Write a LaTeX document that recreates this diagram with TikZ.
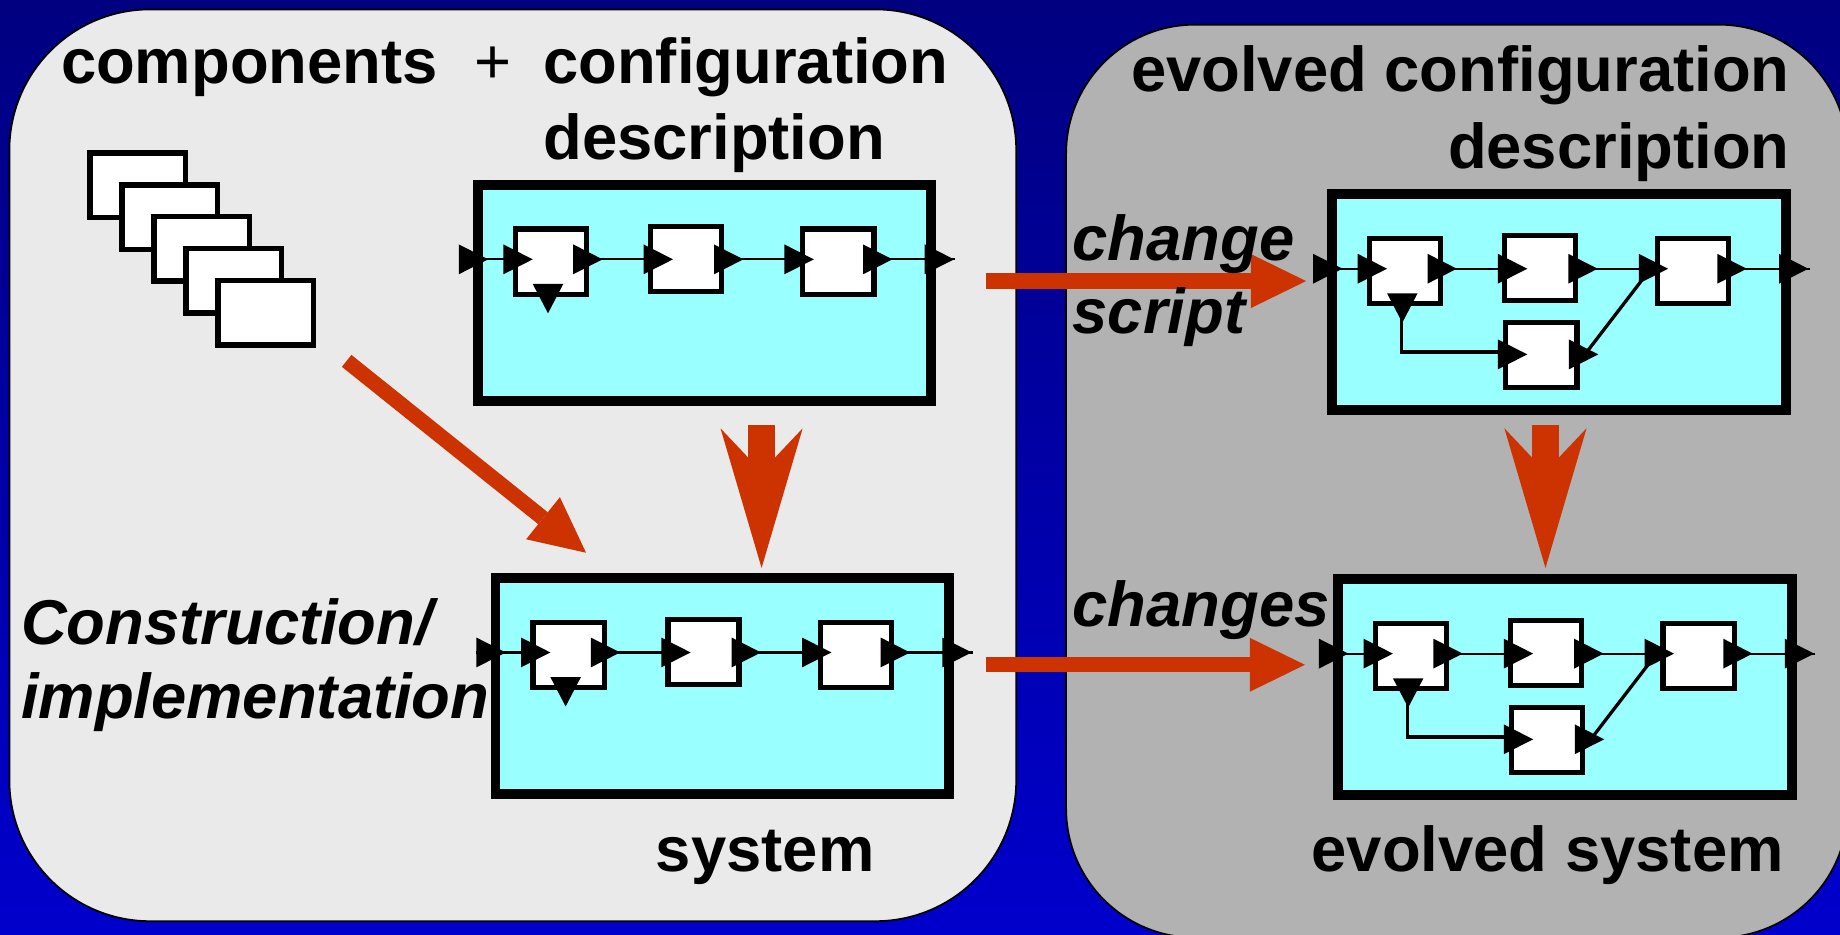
\documentclass[tikz,border=0pt]{standalone}
\usepackage{fontspec}
\setmainfont{Liberation Sans}
\usetikzlibrary{arrows.meta}

\definecolor{bgtop}{RGB}{0,0,128}
\definecolor{bgbot}{RGB}{0,0,204}
\definecolor{panelLight}{RGB}{234,234,234}
\definecolor{panelDark}{RGB}{178,178,178}
\definecolor{boxcyan}{RGB}{153,255,255}
\definecolor{arrowred}{RGB}{204,51,0}

\tikzset{
  panel/.style={draw=black, line width=1.5pt, inner sep=0pt, outer sep=0pt, anchor=north west},
  cbox/.style={draw=black, fill=boxcyan, line width=8.5pt, inner sep=0pt, outer sep=0pt,
               minimum width=386.5pt, minimum height=184.5pt},
  blk/.style={draw=black, fill=white, line width=4.4pt, inner sep=0pt, outer sep=0pt,
              minimum width=60.6pt, minimum height=55.6pt},
  comp/.style={draw=black, fill=white, line width=4.6pt, inner sep=0pt, outer sep=0pt,
               minimum width=81.4pt, minimum height=54.9pt},
  sig/.style={draw=black, line width=1.8pt},
  branch/.style={draw=black, line width=2.8pt},
  redthin/.style={draw=arrowred, line width=13pt,
                  -{Triangle[width=46pt,length=47pt,line width=0pt]}},
  redthick/.style={draw=arrowred, line width=23pt,
                  -{Stealth[width=70pt,length=119pt,inset=37pt,line width=0pt]}},
  lbl/.style={inner sep=0pt, outer sep=0pt, font=\fontsize{54}{60}\selectfont\bfseries},
  ilbl/.style={inner sep=0pt, outer sep=0pt, font=\fontsize{54}{60}\selectfont\bfseries\itshape},
}

% right-pointing port triangle: base x, centre y
\newcommand\porttri[2]{\fill (#1,#2-12.7) -- (#1+25,#2) -- (#1,#2+12.7) -- cycle;}
% downward port triangle: centre x, base y
\newcommand\downtri[2]{\fill (#1-13,#2) -- (#1+13,#2) -- (#1,#2+25) -- cycle;}

% configuration box: prefix, top-left x, top-left y, evolved (0/1)
\newcommand\cfgbox[4]{%
\begin{scope}[shift={(#2,#3)}]
  \node[cbox, anchor=north west] (#1box) at (4.25,4.25) {};
  \coordinate (#1pin) at (-12,68);
  \coordinate (#1pout) at (411,68);
  \draw[sig] (#1pin) -- (#1pout);
  \ifnum#4=1
    \coordinate (#1tap) at (63.5,110);
    \coordinate (#1b4in) at (146,139);
    \coordinate (#1b4out) at (221.6,138.4);
    \coordinate (#1b3low) at (268.5,77.3);
    \draw[branch] (#1tap) |- (#1b4in);
    \draw[branch] (#1b4out) -- (#1b3low);
    \node[blk] (#1b4) at (182.5,141.5) {};
  \fi
  \node[blk] (#1b1) at (66.5,70) {};
  \node[blk] (#1b2) at (181.5,67.5) {};
  \node[blk] (#1b3) at (311.5,70) {};
  \porttri{-12}{68}\porttri{26}{68}\porttri{85.5}{68}\porttri{145.5}{68}
  \porttri{205.5}{68}\porttri{265.5}{68}\porttri{332.5}{68}\porttri{385}{68}
  \downtri{64}{89}
  \ifnum#4=1
    \porttri{145.5}{141}\porttri{206}{141}
  \fi
\end{scope}}

\begin{document}
\begin{tikzpicture}[x=1pt,y=-1pt]
  \useasboundingbox (0,0) rectangle (1568,796);
  % backdrop
  \shade[top color=bgtop, bottom color=bgbot] (0,0) rectangle (1568,796);

  % the two panels
  \node[panel, fill=panelLight, rounded corners=120pt,
        minimum width=858pt, minimum height=777pt] (lpanel) at (8,8) {};
  \node[panel, fill=panelDark, rounded corners=110pt,
        minimum width=666pt, minimum height=778pt] (rpanel) at (908.5,21) {};

  % stack of components
  \foreach \i in {0,...,4} {
    \node[comp] (comp\i) at (117.4+27.3*\i,157.75+27.2*\i) {};
  }

  % configuration boxes
  \cfgbox{A}{403}{153}{0}
  \cfgbox{B}{418}{488}{0}
  \cfgbox{C}{1131}{161}{1}
  \cfgbox{D}{1136}{489}{1}

  % red transformation arrows
  \coordinate (dS) at (295.4,307.5);
  \coordinate (dE) at (499.4,471);
  \draw[redthin] (dS) -- (dE);
  \coordinate (vLS) at (649,362);
  \coordinate (vLE) at (649,484);
  \draw[redthick] (vLS) -- (vLE);
  \coordinate (vRS) at (1317,362);
  \coordinate (vRE) at (1317,484);
  \draw[redthick] (vRS) -- (vRE);
  \coordinate (hTS) at (840,239.5);
  \coordinate (hTE) at (1113,239.5);
  \draw[redthin] (hTS) -- (hTE);
  \coordinate (hBS) at (840,566.5);
  \coordinate (hBE) at (1112,566.5);
  \draw[redthin] (hBS) -- (hBE);

  % labels
  \node[lbl, anchor=base west] (tComp) at (52,71) {components};
  \node[inner sep=0pt, anchor=base, font=\fontsize{54}{60}\selectfont] (tPlus) at (420,71) {+};
  \node[lbl, anchor=base west] (tConf) at (463,71) {configuration};
  \node[lbl, anchor=base west] (tDesc) at (463,136) {description};
  \node[lbl, anchor=base east] (tEvConf) at (1525,78) {evolved configuration};
  \node[lbl, anchor=base east] (tEvDesc) at (1525,143.5) {description};
  \node[ilbl, anchor=base west] (tChange) at (914,221.6) {change};
  \node[ilbl, anchor=base west] (tScript) at (914,284) {script};
  \node[ilbl, anchor=base west] (tChanges) at (914,534) {changes};
  \node[ilbl, anchor=base west] (tCons) at (18,549) {Construction/};
  \node[ilbl, anchor=base west] (tImpl) at (18,612) {implementation};
  \node[lbl, anchor=base west] (tSys) at (559,743) {system};
  \node[lbl, anchor=base east] (tEvSys) at (1520,743) {evolved system};
\end{tikzpicture}
\end{document}
